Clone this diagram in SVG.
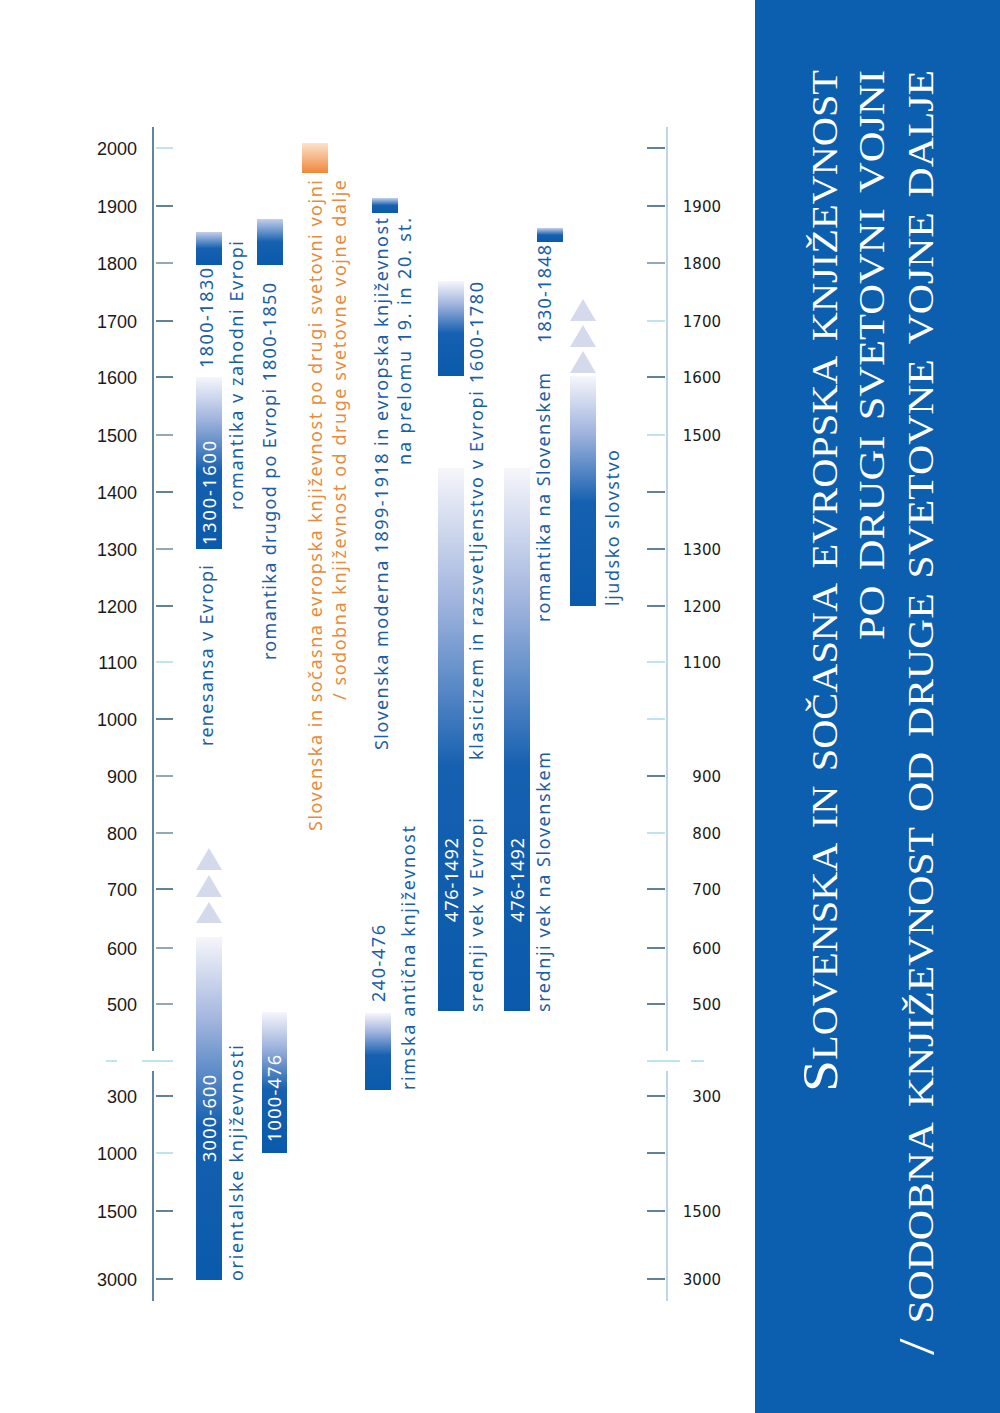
<svg xmlns="http://www.w3.org/2000/svg" width="1000" height="1413" viewBox="0 0 1000 1413">
<defs>
<linearGradient id="gBlue" x1="0" y1="0" x2="0" y2="1">
<stop offset="0" stop-color="#f6f6fb"/>
<stop offset="0.25" stop-color="#9fb3dd"/>
<stop offset="0.55" stop-color="#1660b0"/>
<stop offset="1" stop-color="#0a5aab"/>
</linearGradient>
<linearGradient id="gSmall" x1="0" y1="0" x2="0" y2="1">
<stop offset="0" stop-color="#c4cfea"/>
<stop offset="0.5" stop-color="#1660b0"/>
<stop offset="1" stop-color="#0a5aab"/>
</linearGradient>
<linearGradient id="gOrange" x1="0" y1="0" x2="0" y2="1">
<stop offset="0" stop-color="#fde3cf"/>
<stop offset="1" stop-color="#f0873a"/>
</linearGradient>
<style>
.axis-d{stroke:#2d5c7c;stroke-width:1.5}
.axis-l{stroke:#a9c9dc;stroke-width:1.5}
.tk-d{stroke:#2d5a78;stroke-width:1.5}
.tk-g{stroke:#6f8e9e;stroke-width:1.5}
.tk-l{stroke:#a8dbe6;stroke-width:1.5}
.brk{stroke:#a8dbe6;stroke-width:1.5}
.lbl-l{font-family:"Liberation Sans",Arial,sans-serif;font-size:18px;fill:#1a1a1a;text-anchor:end}
.lbl-r{font-family:"DejaVu Sans",Verdana,sans-serif;font-size:15px;fill:#1a1a1a;text-anchor:end}
.bar{fill:url(#gBlue)}
.sbar{fill:url(#gSmall)}
.tri{fill:#d4d9ec}
.t{font-family:"Noto Sans","Open Sans",sans-serif;font-size:18px;fill:#1a5ea8}
.w{fill:#ffffff}
.o{fill:#e98a3e}
.title{font-family:"Liberation Serif","Times New Roman",serif;font-size:50px;fill:#ffffff;font-variant:small-caps}
</style>
</defs>
<rect x="0" y="0" width="1000" height="1413" fill="#ffffff"/>
<rect id="title-panel" x="755" y="0" width="245" height="1413" fill="#0b5fae"/>

<g id="left-axis">
<line class="axis-d" x1="153" y1="127" x2="153" y2="1051"/>
<line class="axis-d" x1="153" y1="1071" x2="153" y2="1301"/>
<line class="brk" x1="106" y1="1061" x2="117" y2="1061"/>
<line class="brk" x1="142" y1="1061" x2="173" y2="1061"/>
<line class="tk-l" x1="156" y1="148" x2="173" y2="148"/>
<line class="tk-d" x1="156" y1="206" x2="173" y2="206"/>
<line class="tk-g" x1="156" y1="263" x2="173" y2="263"/>
<line class="tk-d" x1="156" y1="321" x2="173" y2="321"/>
<line class="tk-d" x1="156" y1="377" x2="173" y2="377"/>
<line class="tk-g" x1="156" y1="435" x2="173" y2="435"/>
<line class="tk-d" x1="156" y1="492" x2="173" y2="492"/>
<line class="tk-g" x1="156" y1="549" x2="173" y2="549"/>
<line class="tk-d" x1="156" y1="606" x2="173" y2="606"/>
<line class="tk-l" x1="156" y1="662" x2="173" y2="662"/>
<line class="tk-d" x1="156" y1="719" x2="173" y2="719"/>
<line class="tk-g" x1="156" y1="776" x2="173" y2="776"/>
<line class="tk-g" x1="156" y1="833" x2="173" y2="833"/>
<line class="tk-d" x1="156" y1="889" x2="173" y2="889"/>
<line class="tk-g" x1="156" y1="948" x2="173" y2="948"/>
<line class="tk-g" x1="156" y1="1004" x2="173" y2="1004"/>
<line class="tk-d" x1="156" y1="1096" x2="173" y2="1096"/>
<line class="tk-l" x1="156" y1="1153" x2="173" y2="1153"/>
<line class="tk-d" x1="156" y1="1211" x2="173" y2="1211"/>
<line class="tk-d" x1="156" y1="1279" x2="173" y2="1279"/>
<text class="lbl-l" x="137" y="155">2000</text>
<text class="lbl-l" x="137" y="213">1900</text>
<text class="lbl-l" x="137" y="270">1800</text>
<text class="lbl-l" x="137" y="328">1700</text>
<text class="lbl-l" x="137" y="384">1600</text>
<text class="lbl-l" x="137" y="442">1500</text>
<text class="lbl-l" x="137" y="499">1400</text>
<text class="lbl-l" x="137" y="556">1300</text>
<text class="lbl-l" x="137" y="613">1200</text>
<text class="lbl-l" x="137" y="669">1100</text>
<text class="lbl-l" x="137" y="726">1000</text>
<text class="lbl-l" x="137" y="783">900</text>
<text class="lbl-l" x="137" y="840">800</text>
<text class="lbl-l" x="137" y="896">700</text>
<text class="lbl-l" x="137" y="955">600</text>
<text class="lbl-l" x="137" y="1011">500</text>
<text class="lbl-l" x="137" y="1103">300</text>
<text class="lbl-l" x="137" y="1160">1000</text>
<text class="lbl-l" x="137" y="1218">1500</text>
<text class="lbl-l" x="137" y="1286">3000</text>
</g>

<g id="right-axis">
<line class="axis-l" x1="667" y1="127" x2="667" y2="1051"/>
<line class="axis-l" x1="667" y1="1071" x2="667" y2="1301"/>
<line class="brk" x1="647" y1="1061" x2="680" y2="1061"/>
<line class="brk" x1="691" y1="1061" x2="704" y2="1061"/>
<line class="tk-d" x1="647" y1="148" x2="665" y2="148"/>
<line class="tk-d" x1="647" y1="206" x2="665" y2="206"/>
<line class="tk-g" x1="647" y1="263" x2="665" y2="263"/>
<line class="tk-l" x1="647" y1="321" x2="665" y2="321"/>
<line class="tk-d" x1="647" y1="377" x2="665" y2="377"/>
<line class="tk-l" x1="647" y1="435" x2="665" y2="435"/>
<line class="tk-d" x1="647" y1="492" x2="665" y2="492"/>
<line class="tk-d" x1="647" y1="549" x2="665" y2="549"/>
<line class="tk-d" x1="647" y1="606" x2="665" y2="606"/>
<line class="tk-l" x1="647" y1="662" x2="665" y2="662"/>
<line class="tk-l" x1="647" y1="719" x2="665" y2="719"/>
<line class="tk-d" x1="647" y1="776" x2="665" y2="776"/>
<line class="tk-l" x1="647" y1="833" x2="665" y2="833"/>
<line class="tk-d" x1="647" y1="889" x2="665" y2="889"/>
<line class="tk-d" x1="647" y1="948" x2="665" y2="948"/>
<line class="tk-d" x1="647" y1="1004" x2="665" y2="1004"/>
<line class="tk-d" x1="647" y1="1096" x2="665" y2="1096"/>
<line class="tk-d" x1="647" y1="1153" x2="665" y2="1153"/>
<line class="tk-d" x1="647" y1="1211" x2="665" y2="1211"/>
<line class="tk-d" x1="647" y1="1279" x2="665" y2="1279"/>
<text class="lbl-r" x="721" y="212">1900</text>
<text class="lbl-r" x="721" y="269">1800</text>
<text class="lbl-r" x="721" y="327">1700</text>
<text class="lbl-r" x="721" y="383">1600</text>
<text class="lbl-r" x="721" y="441">1500</text>
<text class="lbl-r" x="721" y="555">1300</text>
<text class="lbl-r" x="721" y="612">1200</text>
<text class="lbl-r" x="721" y="668">1100</text>
<text class="lbl-r" x="721" y="782">900</text>
<text class="lbl-r" x="721" y="839">800</text>
<text class="lbl-r" x="721" y="895">700</text>
<text class="lbl-r" x="721" y="954">600</text>
<text class="lbl-r" x="721" y="1010">500</text>
<text class="lbl-r" x="721" y="1102">300</text>
<text class="lbl-r" x="721" y="1217">1500</text>
<text class="lbl-r" x="721" y="1285">3000</text>
</g>

<g id="renesansa">
<rect class="sbar" x="196" y="232" width="26" height="33"/>
<rect class="bar" x="196" y="377" width="26" height="172"/>
<text class="t" transform="translate(213,368) rotate(-90)" textLength="100" lengthAdjust="spacing">1800-1830</text>
<text class="t w" transform="translate(216,545) rotate(-90)" textLength="104" lengthAdjust="spacing">1300-1600</text>
<text class="t" transform="translate(213,746) rotate(-90)" textLength="181" lengthAdjust="spacing">renesansa v Evropi</text>
</g>

<g id="romantika-zahod">
<text class="t" transform="translate(243,510) rotate(-90)" textLength="269" lengthAdjust="spacing">romantika v zahodni Evropi</text>
</g>

<g id="romantika-drugod">
<rect class="sbar" x="257" y="219" width="26" height="46"/>
<text class="t" transform="translate(276,660) rotate(-90)" textLength="377" lengthAdjust="spacing">romantika drugod po Evropi 1800-1850</text>
</g>

<g id="orientalske">
<polygon class="tri" points="209,848 196,870 222,870"/>
<polygon class="tri" points="209,875 196,897 222,897"/>
<polygon class="tri" points="209,902 196,923 222,923"/>
<rect class="bar" x="196" y="937" width="26" height="343"/>
<text class="t w" transform="translate(216,1162) rotate(-90)" textLength="87" lengthAdjust="spacing">3000-600</text>
<text class="t" transform="translate(243,1281) rotate(-90)" textLength="236" lengthAdjust="spacing">orientalske književnosti</text>
</g>

<g id="bar-1000-476">
<rect class="bar" x="262" y="1012" width="25" height="141"/>
<text class="t w" transform="translate(281,1142) rotate(-90)" textLength="87" lengthAdjust="spacing">1000-476</text>
</g>

<g id="sodobna">
<rect x="302" y="143" width="26" height="30" fill="url(#gOrange)"/>
<text class="t o" transform="translate(322,831) rotate(-90)" textLength="651" lengthAdjust="spacing">Slovenska in sočasna evropska književnost po drugi svetovni vojni</text>
<text class="t o" transform="translate(346,700) rotate(-90)" textLength="520" lengthAdjust="spacing">/ sodobna književnost od druge svetovne vojne dalje</text>
</g>

<g id="moderna">
<rect class="sbar" x="372" y="198" width="26" height="15"/>
<text class="t" transform="translate(388,750) rotate(-90)" textLength="532" lengthAdjust="spacing">Slovenska moderna 1899-1918 in evropska književnost</text>
<text class="t" transform="translate(411,465) rotate(-90)" textLength="247" lengthAdjust="spacing">na prelomu 19. in 20. st.</text>
</g>

<g id="rimska">
<rect class="bar" x="365" y="1013" width="26" height="77"/>
<text class="t" transform="translate(385,1002) rotate(-90)" textLength="77" lengthAdjust="spacing">240-476</text>
<text class="t" transform="translate(415,1090) rotate(-90)" textLength="264" lengthAdjust="spacing">rimska antična književnost</text>
</g>

<g id="klasicizem">
<rect class="bar" x="438" y="281" width="26" height="95"/>
<text class="t" transform="translate(483,760) rotate(-90)" textLength="478" lengthAdjust="spacing">klasicizem in razsvetljenstvo v Evropi 1600-1780</text>
</g>

<g id="srednji-vek-evropa">
<rect class="bar" x="438" y="468" width="26" height="543"/>
<text class="t w" transform="translate(458,922) rotate(-90)" textLength="84" lengthAdjust="spacing">476-1492</text>
<text class="t" transform="translate(483,1012) rotate(-90)" textLength="194" lengthAdjust="spacing">srednji vek v Evropi</text>
</g>

<g id="srednji-vek-slovenija">
<rect class="bar" x="504" y="468" width="26" height="543"/>
<text class="t w" transform="translate(524,922) rotate(-90)" textLength="84" lengthAdjust="spacing">476-1492</text>
<text class="t" transform="translate(550,1012) rotate(-90)" textLength="260" lengthAdjust="spacing">srednji vek na Slovenskem</text>
</g>

<g id="romantika-slovenija">
<rect class="sbar" x="537" y="228" width="26" height="14"/>
<text class="t" transform="translate(550,622) rotate(-90)" textLength="249" lengthAdjust="spacing">romantika na Slovenskem</text>
<text class="t" transform="translate(551,343) rotate(-90)" textLength="98" lengthAdjust="spacing">1830-1848</text>
</g>

<g id="ljudsko-slovstvo">
<polygon class="tri" points="583,299 570,321 596,321"/>
<polygon class="tri" points="583,325 570,347 596,347"/>
<polygon class="tri" points="583,351 570,373 596,373"/>
<rect class="bar" x="570" y="376" width="26" height="230"/>
<text class="t" transform="translate(619,606) rotate(-90)" textLength="156" lengthAdjust="spacing">ljudsko slovstvo</text>
</g>

<g id="title">
<text class="title" transform="translate(837,1092) rotate(-90)" textLength="1022" lengthAdjust="spacingAndGlyphs">Slovenska in sočasna evropska književnost</text>
<text class="title" transform="translate(884,640) rotate(-90)" textLength="570" lengthAdjust="spacingAndGlyphs">po drugi svetovni vojni</text>
<text class="title" transform="translate(933,1355) rotate(-90)" textLength="1285" lengthAdjust="spacingAndGlyphs">/ sodobna književnost od druge svetovne vojne dalje</text>
</g>
</svg>
